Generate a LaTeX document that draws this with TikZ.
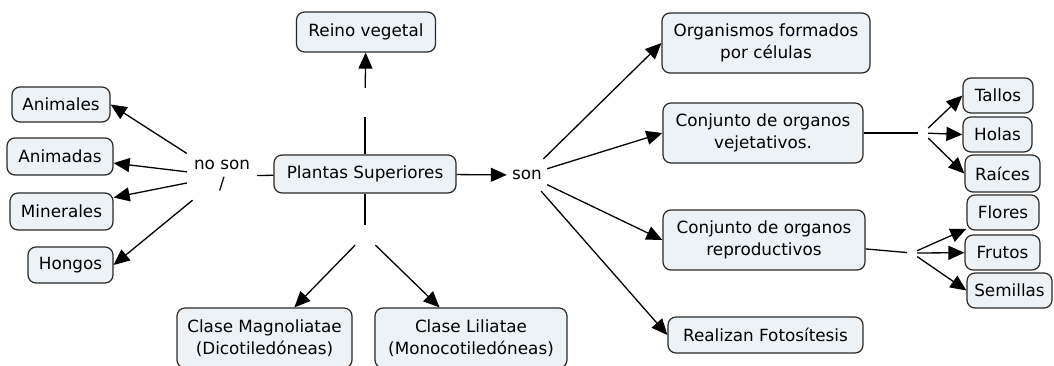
\documentclass[tikz,border=0pt]{standalone}
\usepackage{fontspec}
\setmainfont{DejaVu Sans}
\usetikzlibrary{arrows.meta}
\definecolor{boxfill}{RGB}{236,242,246}
\definecolor{boxline}{RGB}{40,40,40}
\begin{document}
\begin{tikzpicture}[x=1pt,y=-1pt,
  concept/.style={draw=boxline, line width=1.2pt, fill=boxfill, rounded corners=8pt,
    align=center, inner sep=0pt, font=\fontsize{16.8}{22}\selectfont},
  phrase/.style={inner sep=0pt, align=center, font=\fontsize{16.8}{20}\selectfont},
  link/.style={line width=1.3pt, black},
  arr/.style={link, -{Triangle[length=16pt,width=14pt]}},
]
\clip (0,0) rectangle (1054,365);
\fill[white] (0,0) rectangle (1054,365);

% concepts
\node[concept, minimum width=139pt, minimum height=40pt] (reino) at (366,32) {Reino vegetal};
\node[concept, minimum width=182pt, minimum height=38pt] (plantas) at (365,174) {Plantas Superiores};
\node[concept, minimum width=98pt, minimum height=35pt] (animales) at (61,104.5) {Animales};
\node[concept, minimum width=106pt, minimum height=37pt] (animadas) at (60,156.5) {Animadas};
\node[concept, minimum width=103pt, minimum height=37pt] (minerales) at (61.5,211.5) {Minerales};
\node[concept, minimum width=85pt, minimum height=36pt] (hongos) at (70.5,265) {Hongos};
\node[concept, minimum width=175pt, minimum height=60pt] (magno) at (264.5,338) {Clase Magnoliatae\\(Dicotiledóneas)};
\node[concept, minimum width=192pt, minimum height=60pt] (lili) at (471,338) {Clase Liliatae\\(Monocotiledóneas)};
\node[concept, minimum width=208pt, minimum height=60pt] (org) at (766,43) {Organismos formados\\por células};
\node[concept, minimum width=200pt, minimum height=60pt] (veg) at (763,133) {Conjunto de organos\\vejetativos.};
\node[concept, minimum width=202pt, minimum height=60pt] (rep) at (764,240) {Conjunto de organos\\reproductivos};
\node[concept, minimum width=195pt, minimum height=36pt] (fot) at (765.5,335) {Realizan Fotosítesis};
\node[concept, minimum width=70pt, minimum height=35pt] (tallos) at (998,95.5) {Tallos};
\node[concept, minimum width=69pt, minimum height=35pt] (holas) at (997.5,134.5) {Holas};
\node[concept, minimum width=75pt, minimum height=37pt] (raices) at (1002.5,173.5) {Raíces};
\node[concept, minimum width=72pt, minimum height=35pt] (flores) at (1003,212.5) {Flores};
\node[concept, minimum width=75pt, minimum height=35pt] (frutos) at (1002.5,252.5) {Frutos};
\node[concept, minimum width=85pt, minimum height=35pt] (semillas) at (1009.5,290.5) {Semillas};

% linking phrases
\node[phrase, minimum width=70pt, minimum height=48pt] (noson) at (222,176) {no son\\/};
\node[phrase, minimum width=40pt, minimum height=32pt] (son) at (527,175) {son};
\node[phrase, minimum width=12pt, minimum height=29pt] (rvl) at (365,102.5) {};
\node[phrase, minimum width=22pt, minimum height=20pt] (cll) at (365,235) {};
\node[phrase, minimum width=10pt, minimum height=12pt] (vegl) at (923,133) {};
\node[phrase, minimum width=10pt, minimum height=10pt] (repl) at (912,253) {};

% connectors
\draw[link] (noson) -- (plantas);
\draw[arr] (noson) -- (animales.east);
\draw[arr] (noson) -- (animadas.-7);
\draw[arr] (noson) -- (minerales.15);
\draw[arr] (noson) -- (hongos.east);

\draw[link] (plantas) -- (rvl);
\draw[arr] (rvl) -- (reino);
\draw[link] (plantas) -- (cll);
\draw[arr] (cll) -- (magno);
\draw[arr] (cll) -- (lili);

\draw[arr] (plantas) -- (son);
\draw[arr] (son) -- (org.west);
\draw[arr] (son) -- (veg.west);
\draw[arr] (son) -- (rep.west);
\draw[arr] (son) -- (fot.west);

\draw[link] (veg) -- (vegl);
\draw[arr] (vegl) -- (tallos.west);
\draw[arr] (vegl) -- (holas.west);
\draw[arr] (vegl) -- (raices.west);

\draw[link] (rep) -- (repl);
\draw[arr] (repl) -- (flores);
\draw[arr] (repl) -- (frutos);
\draw[arr] (repl) -- (semillas.west);
\end{tikzpicture}
\end{document}
